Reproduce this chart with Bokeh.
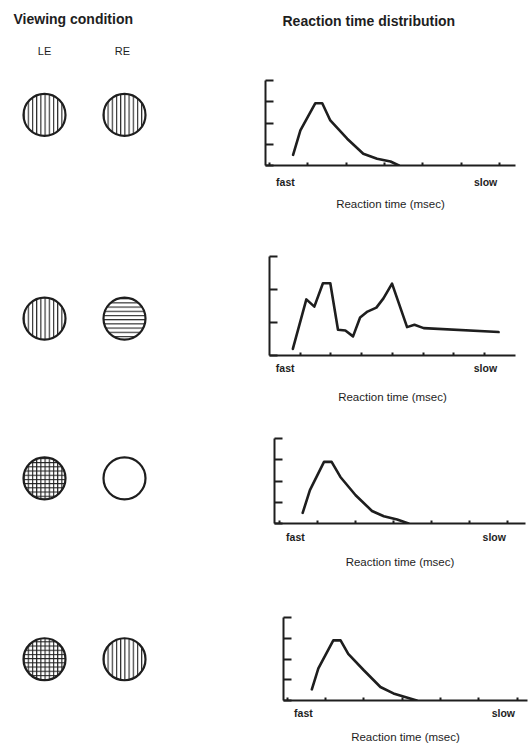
from bokeh.plotting import figure
from bokeh.layouts import column, row
from bokeh.models import Range1d, FixedTicker, LinearAxis, ColumnDataSource, CustomJSTickFormatter
from bokeh.embed import file_html
from bokeh.resources import INLINE
from bokeh.core.properties import value

# ---------------- data ----------------
eye_labels = ["LE", "RE"]
eye_index = [0, 1]
le_patterns = ["vertical_line", "vertical_line", "cross", "cross"]
re_patterns = ["vertical_line", "horizontal_line", "blank", "vertical_line"]

rt1_x = [0.62, 0.81, 1.20, 1.38, 1.59, 2.03, 2.45, 2.81, 3.16, 3.38]
rt1_y = [0.50, 1.65, 2.93, 2.93, 2.12, 1.26, 0.55, 0.32, 0.19, 0.00]

rt2_x = [0.76, 1.20, 1.46, 1.74, 1.98, 2.23, 2.47, 2.72, 2.95, 3.19, 3.48, 3.71, 3.99,
         4.48, 4.72, 5.02, 7.46]
rt2_y = [0.20, 1.70, 1.48, 2.19, 2.19, 0.78, 0.76, 0.58, 1.15, 1.33, 1.45, 1.73, 2.18,
         0.86, 0.93, 0.83, 0.71]

rt3_x = [0.61, 0.80, 1.17, 1.37, 1.60, 2.00, 2.43, 2.74, 3.09, 3.39]
rt3_y = [0.50, 1.57, 2.90, 2.90, 2.19, 1.33, 0.59, 0.34, 0.19, 0.00]

rt4_x = [0.64, 0.81, 1.20, 1.39, 1.59, 1.99, 2.43, 2.77, 3.03, 3.38]
rt4_y = [0.54, 1.55, 2.90, 2.90, 2.25, 1.47, 0.65, 0.34, 0.19, 0.00]

x_ticks_a = [0, 1, 2, 3, 4, 5, 6]
x_ticks_b = [1, 2, 3, 4, 5, 6, 7]
y_ticks_a = [0, 1, 2, 3, 4]
y_ticks_b = [0, 1, 2, 3]
end_labels = ["fast", "slow"]
end_pos_a = [0.42, 5.64]
end_pos_b = [0.51, 7.03]
axis_title = "Reaction time (msec)"
headings = ["Viewing condition", "Reaction time distribution"]

INK = "#1e1e1e"
FONT = "Liberation Sans"
BLANK = CustomJSTickFormatter(code="return ''")

# ---------------- header ----------------
header = figure(width=528, height=62, x_range=Range1d(0, 528), y_range=Range1d(62, 0),
                output_backend="svg", toolbar_location=None, min_border=0)
header.axis.visible = False
header.grid.visible = False
header.outline_line_color = None
header.text(x=[13, 282], y=[18, 20], text=headings,
            text_font=value(FONT), text_font_size="14px", text_font_style="bold",
            text_color=INK, text_baseline="middle", text_align="left")
header.text(x=[44, 122], y=[50, 50], text=eye_labels,
            text_font=value(FONT), text_font_size="11px", text_color=INK,
            text_baseline="middle", text_align="center")


def eyes_fig(height, center_from_top, le_pat, re_pat):
    p = figure(width=248, height=height, x_range=Range1d(-0.55, 2.55),
               y_range=Range1d(center_from_top - height, center_from_top),
               output_backend="svg", toolbar_location=None, min_border=0)
    p.axis.visible = False
    p.grid.visible = False
    p.outline_line_color = None
    src = ColumnDataSource(dict(x=eye_index, y=[0, 0], pat=[le_pat, re_pat]))
    p.scatter("x", "y", source=src, marker="circle", size=42, fill_color="white",
              line_color=INK, line_width=2.2, hatch_pattern="pat", hatch_color=INK,
              hatch_scale=4.2, hatch_weight=1.1)
    return p


def style_axis(a, ticks, tick_in):
    a.ticker = FixedTicker(ticks=ticks)
    a.formatter = BLANK
    a.major_tick_in = tick_in
    a.major_tick_out = 0
    a.minor_tick_line_color = None
    a.major_label_standoff = 0
    a.axis_line_width = 2
    a.axis_line_color = INK
    a.major_tick_line_color = INK
    a.major_tick_line_width = 2


def rt_fig(height, top, bottom, left, right, xr, yr, xs, ys, xt, yt, lab_pos,
           lab_standoff, title_standoff):
    p = figure(width=280, height=height, x_range=Range1d(*xr), y_range=Range1d(*yr),
               output_backend="svg", toolbar_location=None,
               min_border_top=top, min_border_bottom=bottom,
               min_border_left=left, min_border_right=right)
    p.grid.visible = False
    p.outline_line_color = None
    p.line(xs, ys, line_color=INK, line_width=2.6, line_join="round", line_cap="round")
    style_axis(p.xaxis[0], xt, 3)
    style_axis(p.yaxis[0], yt, 8)
    lab = LinearAxis(ticker=FixedTicker(ticks=lab_pos),
                     major_label_overrides={lab_pos[0]: end_labels[0], lab_pos[1]: end_labels[1]},
                     axis_line_color=None, major_tick_line_color=None,
                     minor_tick_line_color=None,
                     major_label_text_font=FONT, major_label_text_font_size="10.5px",
                     major_label_text_font_style="bold", major_label_text_color=INK,
                     major_label_standoff=lab_standoff,
                     axis_label=axis_title, axis_label_text_font=FONT,
                     axis_label_text_font_size="11.5px", axis_label_text_font_style="normal",
                     axis_label_text_color=INK, axis_label_standoff=title_standoff)
    p.add_layout(lab, "below")
    return p


c1 = rt_fig(158, 18, 55, 17, 13, (-0.1, 6.42), (0, 4), rt1_x, rt1_y, x_ticks_a, y_ticks_a,
            end_pos_a, 4, 7)
c2 = rt_fig(185, 36, 49, 21, 13, (0, 8.01), (0, 3), rt2_x, rt2_y, x_ticks_b, y_ticks_b,
            end_pos_b, 0, 14)
c3 = rt_fig(175, 33, 57, 26, 3, (-0.13, 6.46), (0, 4), rt3_x, rt3_y, x_ticks_a, y_ticks_a,
            end_pos_a, 1, 10)
c4 = rt_fig(165, 37, 42, 35, 1, (-0.1, 6.27), (0, 4), rt4_x, rt4_y, x_ticks_a, y_ticks_a,
            end_pos_a, 0, 9)

e1 = eyes_fig(158, 64, le_patterns[0], re_patterns[0])
e2 = eyes_fig(185, 116, le_patterns[1], re_patterns[1])
e3 = eyes_fig(175, 82, le_patterns[2], re_patterns[2])
e4 = eyes_fig(165, 83, le_patterns[3], re_patterns[3])

layout = column(header, row(e1, c1), row(e2, c2), row(e3, c3), row(e4, c4))

open("out.html", "w").write(file_html(layout, INLINE))
